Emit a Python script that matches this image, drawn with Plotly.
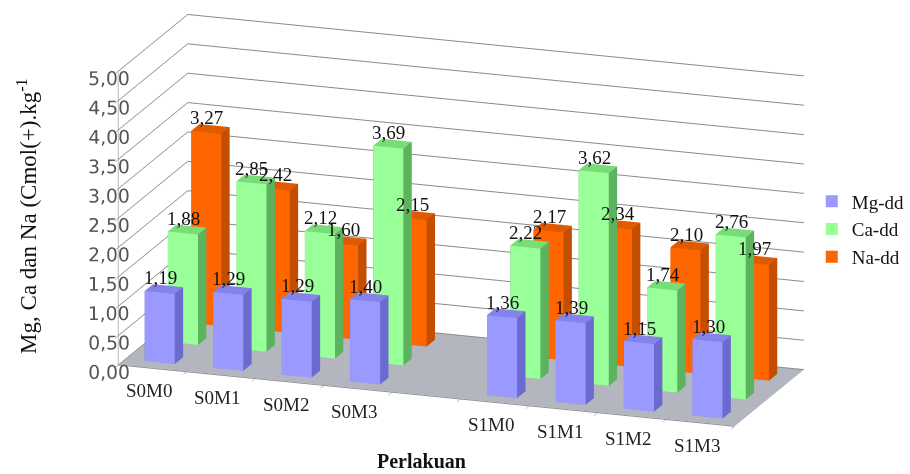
import plotly.graph_objects as go

categories = ["S0M0", "S0M1", "S0M2", "S0M3", "S1M0", "S1M1", "S1M2", "S1M3"]
mg_dd = [1.19, 1.29, 1.29, 1.40, 1.36, 1.39, 1.15, 1.30]
ca_dd = [1.88, 2.85, 2.12, 3.69, 2.22, 3.62, 1.74, 2.76]
na_dd = [3.27, 2.42, 1.60, 2.15, 2.17, 2.34, 2.10, 1.97]
series_names = ["Mg-dd", "Ca-dd", "Na-dd"]
value_ticks = [0, 0.5, 1.0, 1.5, 2.0, 2.5, 3.0, 3.5, 4.0, 4.5, 5.0]

colors = {
    "Mg-dd": dict(front="#9999FF", side="#6A6ACF", top="#8383EA"),
    "Ca-dd": dict(front="#99FF99", side="#5DB35D", top="#78DC78"),
    "Na-dd": dict(front="#FF6600", side="#C44E00", top="#E05A00"),
}

# positions: a blank slot separates the S0 and S1 groups
xpos = [i if i < 4 else i + 1 for i in range(len(categories))]
n_slots = len(categories) + 1
BW = 0.22  # half width of bar
BD = 0.18  # half depth of bar


def fmt(v):
    return f"{v:.2f}".replace(".", ",")


fig = go.Figure()
annotations3d = []

for si, (name, vals) in enumerate(zip(series_names, [mg_dd, ca_dd, na_dd])):
    X, Y, Z, I, J, K, FC = [], [], [], [], [], [], []
    c = colors[name]
    for xp, v in zip(xpos, vals):
        x0, x1 = xp - BW, xp + BW
        y0, y1 = si - BD, si + BD
        z0, z1 = 0, v
        base = len(X)
        pts = [(x0, y0, z0), (x1, y0, z0), (x1, y1, z0), (x0, y1, z0),
               (x0, y0, z1), (x1, y0, z1), (x1, y1, z1), (x0, y1, z1)]
        for p in pts:
            X.append(p[0]); Y.append(p[1]); Z.append(p[2])
        faces = [((0, 1, 5), c["front"]), ((0, 5, 4), c["front"]),
                 ((1, 2, 6), c["side"]), ((1, 6, 5), c["side"]),
                 ((4, 5, 6), c["top"]), ((4, 6, 7), c["top"]),
                 ((0, 3, 7), c["side"]), ((0, 7, 4), c["side"]),
                 ((3, 2, 6), c["side"]), ((3, 6, 7), c["side"]),
                 ((0, 1, 2), c["side"]), ((0, 2, 3), c["side"])]
        for (a, b, d), col in faces:
            I.append(base + a); J.append(base + b); K.append(base + d); FC.append(col)
        annotations3d.append(dict(
            x=xp, y=si - BD, z=v, text=fmt(v), showarrow=False,
            xanchor="center", yanchor="bottom", yshift=2,
            font=dict(family="Liberation Serif", size=19, color="#111")))
    fig.add_trace(go.Mesh3d(
        x=X, y=Y, z=Z, i=I, j=J, k=K, facecolor=FC, flatshading=True,
        lighting=dict(ambient=1, diffuse=0, specular=0, roughness=1, fresnel=0),
        hoverinfo="skip", showlegend=False, name=name))
    fig.add_trace(go.Scatter3d(
        x=[None], y=[None], z=[None], mode="markers", name=name,
        marker=dict(symbol="square", size=7, color=c["front"]), showlegend=True))

for xp, cat in zip(xpos, categories):
    annotations3d.append(dict(
        x=xp, y=-0.5, z=0, text=cat, showarrow=False,
        xanchor="center", yanchor="top", yshift=-10, xshift=-4,
        font=dict(family="Liberation Serif", size=19, color="#222")))

boundaries = [b - 0.5 for b in range(n_slots + 1)]
axis_font = dict(family="DejaVu Sans", size=15, color="#555")
fig.update_layout(
    width=910, height=474, margin=dict(l=0, r=0, t=0, b=0),
    paper_bgcolor="white", separators=",.",
    showlegend=True,
    legend=dict(x=0.895, y=0.615, xanchor="left", yanchor="top",
                font=dict(family="Liberation Serif", size=19, color="#111"),
                itemsizing="constant", bgcolor="rgba(0,0,0,0)"),
    scene=dict(
        domain=dict(x=[0.06, 0.958], y=[0.07, 1.0]),
        aspectmode="manual", aspectratio=dict(x=2.96, y=0.958, z=1.39),
        camera=dict(eye=dict(x=0.421, y=-1.205, z=0.380), center=dict(x=0, y=0, z=0),
                    up=dict(x=0, y=0, z=1), projection=dict(type="orthographic")),
        xaxis=dict(range=[-0.5, n_slots - 0.5], tickvals=boundaries,
                   ticktext=[" "] * len(boundaries), ticks="outside", ticklen=6,
                   tickcolor="#777", showgrid=False, showbackground=True,
                   backgroundcolor="white", showline=True, linecolor="#777",
                   title=dict(text=""), zeroline=False, showspikes=False),
        yaxis=dict(range=[-0.5, 2.5], showticklabels=False, showgrid=False,
                   showbackground=True, backgroundcolor="white", title=dict(text=""),
                   zeroline=False, showspikes=False, showline=False, ticks=""),
        zaxis=dict(range=[0, 5], tickvals=value_ticks, tickformat=".2f", tickangle=0,
                   gridcolor="#8a8a8a", showbackground=True, backgroundcolor="#B3B6BE",
                   tickfont=axis_font, title=dict(text=""), zeroline=False,
                   showspikes=False, showline=True, linecolor="#777",
                   ticks="outside", ticklen=5, tickcolor="#777"),
        annotations=annotations3d,
    ),
    annotations=[
        dict(text="Mg, Ca dan Na (Cmol(+).kg<sup>-1</sup>", x=0.03, y=0.545,
             xref="paper", yref="paper", xanchor="center", yanchor="middle",
             showarrow=False, textangle=-90,
             font=dict(family="Liberation Serif", size=23, color="#111")),
        dict(text="<b>Perlakuan</b>", x=0.465, y=0.0, xref="paper", yref="paper",
             xanchor="center", yanchor="bottom", showarrow=False,
             font=dict(family="Liberation Serif", size=20, color="#111")),
    ],
)

fig.write_html("out.html")
